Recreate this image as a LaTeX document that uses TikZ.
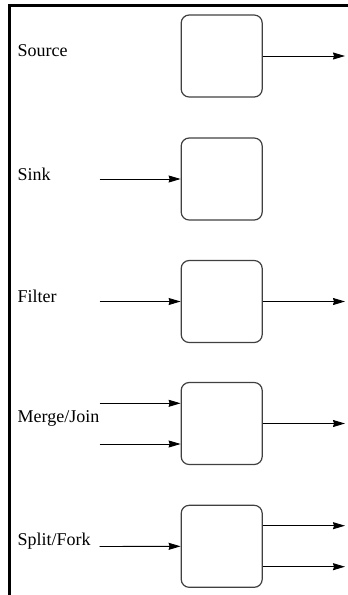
\documentclass[tikz,border=0pt]{standalone}
\usepackage{fontspec}
\setmainfont{Liberation Serif}
\usetikzlibrary{arrows.meta}
\begin{document}
\begin{tikzpicture}[x=1pt,y=-1pt,
  stage/.style={draw=black!75, line width=1.2pt, rounded corners=8pt,
    minimum width=81pt, minimum height=82pt, inner sep=0pt},
  flow/.style={draw=black, line width=0.9pt,
    -{Stealth[length=12pt,width=7pt,inset=1pt]}},
  kind/.style={anchor=west, inner sep=0pt, font=\fontsize{18}{20}\selectfont}]
\useasboundingbox (0,0) rectangle (348,595);
% frame along the top and left edges
\draw[line width=3pt] (348,5) -- (9.5,5) -- (9.5,595);

% Source
\node[stage] (src) at (221.7,56) {};
\node[kind] (srcl) at (17.5,51) {Source};
\coordinate (srco) at (345,56);
\draw[flow] (src.east) -- (srco);

% Sink
\node[stage] (snk) at (221.7,179) {};
\node[kind] (snkl) at (17.5,174) {Sink};
\coordinate (snki) at (99.5,179);
\draw[flow] (snki) -- (snk.west);

% Filter
\node[stage] (flt) at (221.7,301.5) {};
\node[kind] (fltl) at (17.5,296.5) {Filter};
\coordinate (flti) at (99.5,301.5);
\coordinate (flto) at (345,301.5);
\draw[flow] (flti) -- (flt.west);
\draw[flow] (flt.east) -- (flto);

% Merge/Join
\node[stage] (mrg) at (221.7,423.5) {};
\node[kind] (mrgl) at (17.5,418.5) {Merge/Join};
\coordinate (mrgi1) at (99.5,403.3);
\coordinate (mrgi2) at (99.5,444);
\coordinate (mrgo) at (345,423.5);
\draw[flow] (mrgi1) -- (mrgi1 -| mrg.west);
\draw[flow] (mrgi2) -- (mrgi2 -| mrg.west);
\draw[flow] (mrg.east) -- (mrgo);

% Split/Fork
\node[stage] (spl) at (221.7,546.3) {};
\node[kind] (spll) at (17.5,541.5) {Split/Fork};
\coordinate (spli) at (99.5,546.5);
\coordinate (splo1) at (345,525.7);
\coordinate (splo2) at (345,566.7);
\draw[flow] (spli) -- (spl.west);
\draw[flow] (splo1 -| spl.east) -- (splo1);
\draw[flow] (splo2 -| spl.east) -- (splo2);
\end{tikzpicture}
\end{document}
